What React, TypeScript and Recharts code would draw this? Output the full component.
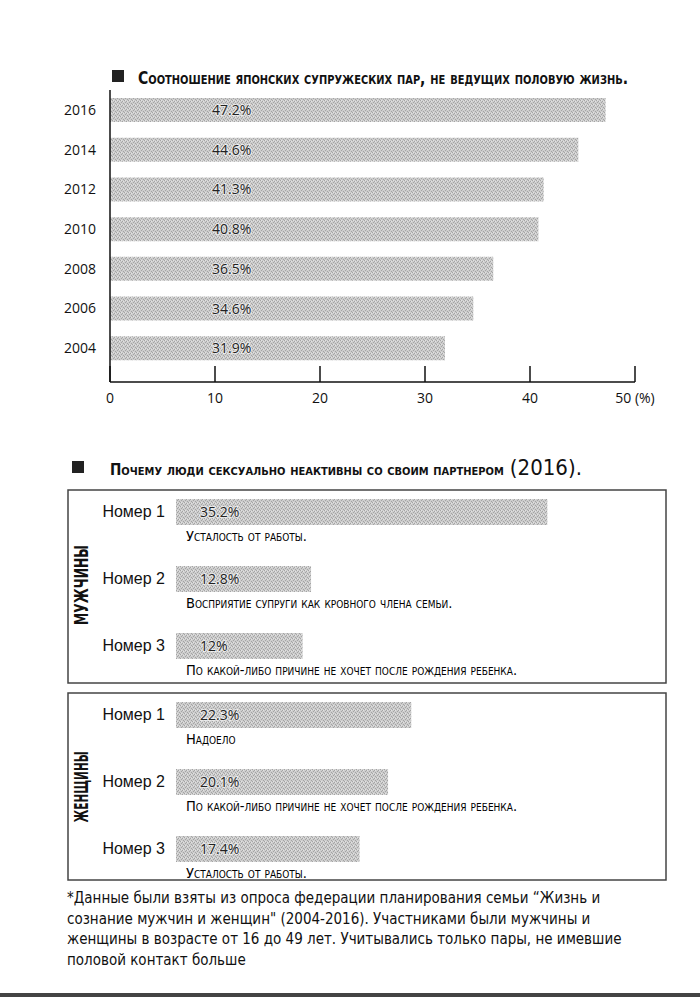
import { BarChart, Bar, XAxis, YAxis, LabelList } from "recharts";

const years = ["2016", "2014", "2012", "2010", "2008", "2006", "2004"];
const sexlessRate = [47.2, 44.6, 41.3, 40.8, 36.5, 34.6, 31.9];
const rateTicks = [0, 10, 20, 30, 40, 50];

const ranks = ["Номер 1", "Номер 2", "Номер 3"];
const menValues = [35.2, 12.8, 12];
const menReasons = [
  "Усталость от работы.",
  "Восприятие супруги как кровного члена семьи.",
  "По какой-либо причине не хочет после рождения ребенка.",
];
const womenValues = [22.3, 20.1, 17.4];
const womenReasons = [
  "Надоело",
  "По какой-либо причине не хочет после рождения ребенка.",
  "Усталость от работы.",
];

const footnoteLines = [
  "*Данные были взяты из опроса федерации планирования семьи “Жизнь и",
  "сознание мужчин и женщин\" (2004-2016). Участниками были мужчины и",
  "женщины в возрасте от 16 до 49 лет. Учитывались только пары, не имевшие",
  "половой контакт больше",
];

const topData = years.map((year, i) => ({ year, value: sexlessRate[i] }));
const menData = ranks.map((rank, i) => ({ rank, value: menValues[i], reason: menReasons[i] }));
const womenData = ranks.map((rank, i) => ({ rank, value: womenValues[i], reason: womenReasons[i] }));

const SANS = "'Open Sans', sans-serif";
const COND = "'DejaVu Sans Condensed', 'Liberation Sans Narrow', sans-serif";
const NARROW = "'Liberation Sans Narrow', 'DejaVu Sans Condensed', sans-serif";

const RateTick = ({ x, y, payload }: any) => (
  <g>
    <line x1={x} x2={x} y1={y} y2={y - 16} stroke="#111" strokeWidth={1.5} />
    <text x={x} y={y + 21} textAnchor="middle" fontFamily={SANS} fontSize={14} fill="#111">
      {payload.value === 50 ? "50 (%)" : payload.value}
    </text>
  </g>
);

const ReasonLabel = (props: any) => {
  const vb = props.viewBox ?? props;
  return (
    <text
      x={vb.x + 10}
      y={vb.y + vb.height + 16}
      fontFamily={COND}
      fontSize={14.5}
      fill="#000"
      style={{ fontVariant: "small-caps" }}
    >
      {props.value}
    </text>
  );
};

const valueLabelProps = {
  fill: "#222",
  fontFamily: SANS,
  fontSize: 14,
  stroke: "#fff",
  strokeWidth: 2,
  strokeOpacity: 0.6,
  paintOrder: "stroke",
};

const ReasonChart = ({ data, top }: { data: any[]; top: number }) => (
  <div style={{ position: "absolute", left: 0, top }}>
    <BarChart width={700} height={201} data={data} layout="vertical" margin={{ top: 0, right: 102, left: 0, bottom: 0 }}>
      <XAxis type="number" domain={[0, 40]} hide />
      <YAxis
        type="category"
        dataKey="rank"
        width={176}
        axisLine={false}
        tickLine={false}
        tickSize={0}
        tickMargin={11}
        tick={{ fill: "#111", fontSize: 16, fontFamily: "'Liberation Sans', Arial, sans-serif" }}
      />
      <Bar dataKey="value" fill="url(#halftone)" barSize={26} isAnimationActive={false}>
        <LabelList dataKey="value" position="insideLeft" offset={24} formatter={(v: any) => `${v}%`} {...valueLabelProps} />
        <LabelList dataKey="reason" content={ReasonLabel} />
      </Bar>
    </BarChart>
  </div>
);

export default function App() {
  return (
    <div style={{ position: "absolute", left: 0, top: 0, width: 700, height: 997, background: "#fff" }}>
      <svg width={700} height={997} style={{ position: "absolute", left: 0, top: 0 }}>
        <defs>
          <pattern id="halftone" width={4} height={4} patternUnits="userSpaceOnUse">
            <rect width={4} height={4} fill="#cdcdcd" />
            <rect x={0} y={0} width={1} height={1} fill="#a4a4a4" />
            <rect x={2} y={1} width={1} height={1} fill="#a4a4a4" />
            <rect x={1} y={2} width={1} height={1} fill="#a4a4a4" />
            <rect x={3} y={3} width={1} height={1} fill="#a4a4a4" />
            <rect x={3} y={1} width={1} height={1} fill="#e2e2e2" />
            <rect x={1} y={0} width={1} height={1} fill="#e2e2e2" />
          </pattern>
        </defs>

        <rect x={112} y={70} width={12} height={12} fill="#222" />
        <text
          x={138}
          y={84}
          fontFamily={COND}
          fontWeight="bold"
          fontSize={17}
          fill="#111"
          textLength={490}
          lengthAdjust="spacingAndGlyphs"
          style={{ fontVariant: "small-caps" }}
        >
          Соотношение японских супружеских пар, не ведущих половую жизнь.
        </text>

        <rect x={72} y={461} width={12} height={12} fill="#222" />
        <text x={110} y={475} fontFamily={COND} fill="#111">
          <tspan fontWeight="bold" fontSize={15.1} style={{ fontVariant: "small-caps" }}>
            Почему люди сексуально неактивны со своим партнером
          </tspan>
          <tspan fontSize={22} dx={6}>(2016).</tspan>
        </text>

        <rect x={68} y={490} width={598} height={193} fill="none" stroke="#444" strokeWidth={1.5} />
        <rect x={68} y={693} width={598} height={187} fill="none" stroke="#444" strokeWidth={1.5} />

        <text
          transform="translate(88 585) rotate(-90)"
          textAnchor="middle"
          fontFamily={COND}
          fontWeight="bold"
          fontSize={19}
          fill="#111"
          textLength={80}
          lengthAdjust="spacingAndGlyphs"
        >
          МУЖЧИНЫ
        </text>
        <text
          transform="translate(88 787) rotate(-90)"
          textAnchor="middle"
          fontFamily={COND}
          fontWeight="bold"
          fontSize={19}
          fill="#111"
          textLength={71}
          lengthAdjust="spacingAndGlyphs"
        >
          ЖЕНЩИНЫ
        </text>

        {footnoteLines.map((line, i) => (
          <text key={i} x={67} y={903 + i * 20.5} fontFamily={NARROW} fontSize={15} fill="#111">
            {line}
          </text>
        ))}

        <rect x={0} y={993} width={700} height={4} fill="#444" />
      </svg>

      <div style={{ position: "absolute", left: 0, top: 0 }}>
        <BarChart width={700} height={412} data={topData} layout="vertical" margin={{ top: 90, right: 65, left: 0, bottom: 0 }}>
          <XAxis
            type="number"
            domain={[0, 50]}
            ticks={rateTicks}
            height={30}
            axisLine={{ stroke: "#111", strokeWidth: 1.5 }}
            tickLine={false}
            tickSize={0}
            tickMargin={0}
            tick={RateTick}
          />
          <YAxis
            type="category"
            dataKey="year"
            width={110}
            padding={{ top: 0, bottom: 14 }}
            axisLine={{ stroke: "#111", strokeWidth: 1.5 }}
            tickLine={false}
            tickSize={0}
            tickMargin={14}
            tick={{ fill: "#111", fontSize: 14, fontFamily: SANS }}
          />
          <Bar dataKey="value" fill="url(#halftone)" barSize={24} isAnimationActive={false}>
            <LabelList dataKey="value" position="insideLeft" offset={102} formatter={(v: any) => `${v}%`} {...valueLabelProps} />
          </Bar>
        </BarChart>
      </div>

      <ReasonChart data={menData} top={478} />
      <ReasonChart data={womenData} top={681} />
    </div>
  );
}
